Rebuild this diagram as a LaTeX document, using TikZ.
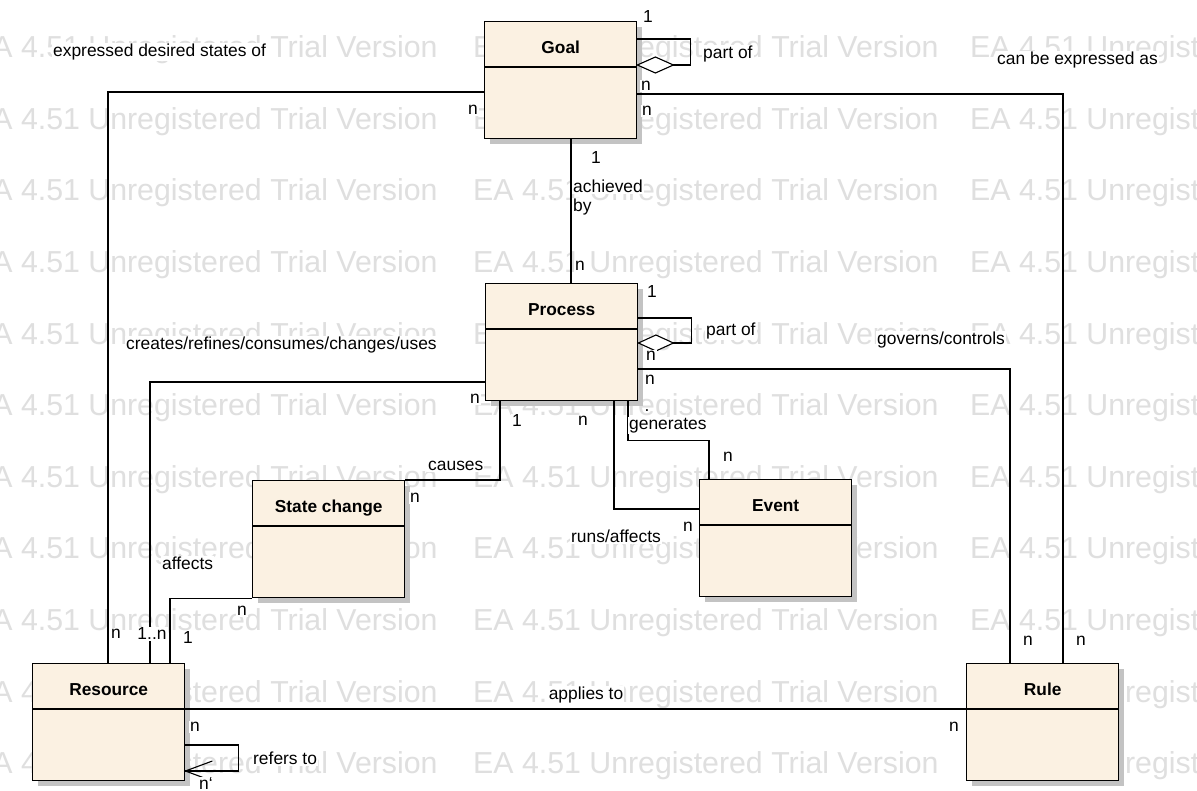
\documentclass[tikz,border=0pt]{standalone}
\usepackage{fontspec}
\setmainfont{Liberation Sans}
\usetikzlibrary{shadows}
\definecolor{classfill}{RGB}{251,241,226}
\definecolor{wmark}{RGB}{223,223,223}
\definecolor{shade}{RGB}{195,195,195}

% class box: name, x, y (top left), title
\newcommand\classbox[4]{%
  \node[umlclass] (#1) at (#2,#3) {};
  \draw[divider] ([yshift=-46pt]#1.north west) -- ([yshift=-46pt]#1.north east);
  \node[ctitle] (#1-title) at ([yshift=-32.5pt]#1.north) {#4};
}

\begin{document}
\begin{tikzpicture}[x=1pt,y=-1pt,
  umlclass/.style={draw=black, line width=1.4pt, fill=classfill,
    minimum width=152pt, minimum height=117pt, inner sep=0pt, anchor=north west,
    drop shadow={shadow xshift=5pt, shadow yshift=-5pt, fill=shade, opacity=1}},
  divider/.style={line width=1.2pt},
  ctitle/.style={anchor=base, inner sep=0pt, font=\fontsize{17.3}{20}\selectfont\bfseries},
  wm/.style={anchor=base west, inner sep=0pt, text=wmark, font=\fontsize{30.3}{36}\selectfont},
  conn/.style={line width=1.1pt, black},
  lbl/.style={fill=white, inner sep=1pt, anchor=mid, font=\fontsize{17.4}{20}\selectfont},
  lblw/.style={lbl, anchor=mid west},
  lble/.style={lbl, anchor=mid east}
]
\useasboundingbox (0,0) rectangle (1197,790);
\clip (0,0) rectangle (1197,790);
\fill[white] (0,0) rectangle (1197,790);

% background trial-version stamp
\foreach \k in {0,...,10}{
  \foreach \x/\i in {-28/a,473/b,970/c}{
    \node[wm] (wm-\k-\i) at (\x, 57.7+71.6*\k) {EA 4.51 Unregistered Trial Version};
  }
}

% classes
\classbox{goal}{484}{21}{Goal}
\classbox{process}{485}{283}{Process}
\classbox{state}{252}{480}{State change}
\classbox{event}{699}{479}{Event}
\classbox{resource}{32}{663}{Resource}
\classbox{rule}{966}{663}{Rule}

% associations
\draw[conn] ([yshift=-71pt]goal.north west) -| ([xshift=76pt]resource.north west);
\draw[conn] ([yshift=-73pt]goal.north east) -| ([xshift=97pt]rule.north west);
\draw[conn] ([xshift=87pt]goal.south west) -- ([xshift=86pt]process.north west);
\draw[conn] ([yshift=-86pt]process.north east) -| ([xshift=44pt]rule.north west);
\draw[conn] ([yshift=-99pt]process.north west) -| ([xshift=118pt]resource.north west);
\draw[conn] ([xshift=15pt]process.south west) |- (state.north east);
\draw[conn] ([xshift=129pt]process.south west) |- ([yshift=-30pt]event.north west);
\draw[conn] ([xshift=143pt]process.south west) -- ++(0,39) -| ([xshift=10pt]event.north west);
\draw[conn] (state.south west) -| ([xshift=138pt]resource.north west);
\draw[conn] ([yshift=-46pt]resource.north east) -- ([yshift=-46pt]rule.north west);

% aggregation loops
\draw[conn] ([yshift=-18pt]goal.north east) -- ++(53,0) |- ([xshift=36pt,yshift=-44pt]goal.north east);
\draw[conn, fill=white] ([yshift=-44pt]goal.north east) -- ++(18,-8) -- ++(18,8) -- ++(-18,8) -- cycle;
\draw[conn] ([yshift=-35pt]process.north east) -- ++(53,0) |- ([xshift=35pt,yshift=-60pt]process.north east);
\draw[conn, fill=white] ([yshift=-60pt]process.north east) -- ++(17.5,-8) -- ++(17.5,8) -- ++(-17.5,8) -- cycle;

% navigable self reference
\draw[conn] ([yshift=-82pt]resource.north east) -- ++(53,0) |- ([yshift=-108pt]resource.north east);
\coordinate (tip) at ([yshift=-108pt]resource.north east);
\draw[conn] ([xshift=27pt,yshift=10pt]tip) -- (tip) -- ([xshift=27pt,yshift=-10pt]tip);

% labels
\node[lblw] (l1) at (52,54) {expressed desired states of};
\node[lbl] (l2) at (648,20) {1};
\node[lblw] (l3) at (702,56) {part of};
\node[lbl] (l4) at (646,88) {n};
\node[lbl] (l5) at (647,113) {n};
\node[lbl] (l6) at (473,112) {n};
\node[lblw] (l7) at (996,62) {can be expressed as};
\node[lbl] (l8) at (596,161) {1};
\node[lblw] (l9) at (572,190) {achieved};
\node[lblw] (l10) at (572,209) {by};
\node[lbl] (l11) at (580,268) {n};
\node[lbl] (l12) at (652,295) {1};
\node[lblw] (l13) at (705,333) {part of};
\node[lbl] (l14) at (651,358) {n};
\node[lbl] (l15) at (650,382) {n};
\node[lblw] (l16) at (125,347) {creates/refines/consumes/changes/uses};
\node[lblw] (l17) at (876,342) {governs/controls};
\node[lbl] (l18) at (475,401) {n};
\node[lbl] (l19) at (517,424) {1};
\node[lbl] (l20) at (583,423) {n};
\node[lbl, fill=none] (l21) at (647,409) {.};
\node[lblw] (l22) at (628,427) {generates};
\node[lbl] (l23) at (728,459) {n};
\node[lblw] (l24) at (427,468) {causes};
\node[lbl] (l25) at (415,500) {n};
\node[lble] (l26) at (662,540) {runs/affects};
\node[lbl] (l27) at (688,529) {n};
\node[lblw] (l28) at (161,567) {affects};
\node[lbl] (l29) at (242,613) {n};
\node[lbl] (l30) at (116,636) {n};
\node[lbl] (l31) at (152,637) {1..n};
\node[lbl] (l32) at (188,641) {1};
\node[lbl] (l33) at (586,697) {applies to};
\node[lbl] (l34) at (954,729) {n};
\node[lbl] (l35) at (195,729) {n};
\node[lblw] (l36) at (252,762) {refers to};
\node[lbl] (l37) at (206,787) {n\symbol{96}};
\node[lbl] (l38) at (1028,643) {n};
\node[lbl] (l39) at (1081,643) {n};
\end{tikzpicture}
\end{document}
